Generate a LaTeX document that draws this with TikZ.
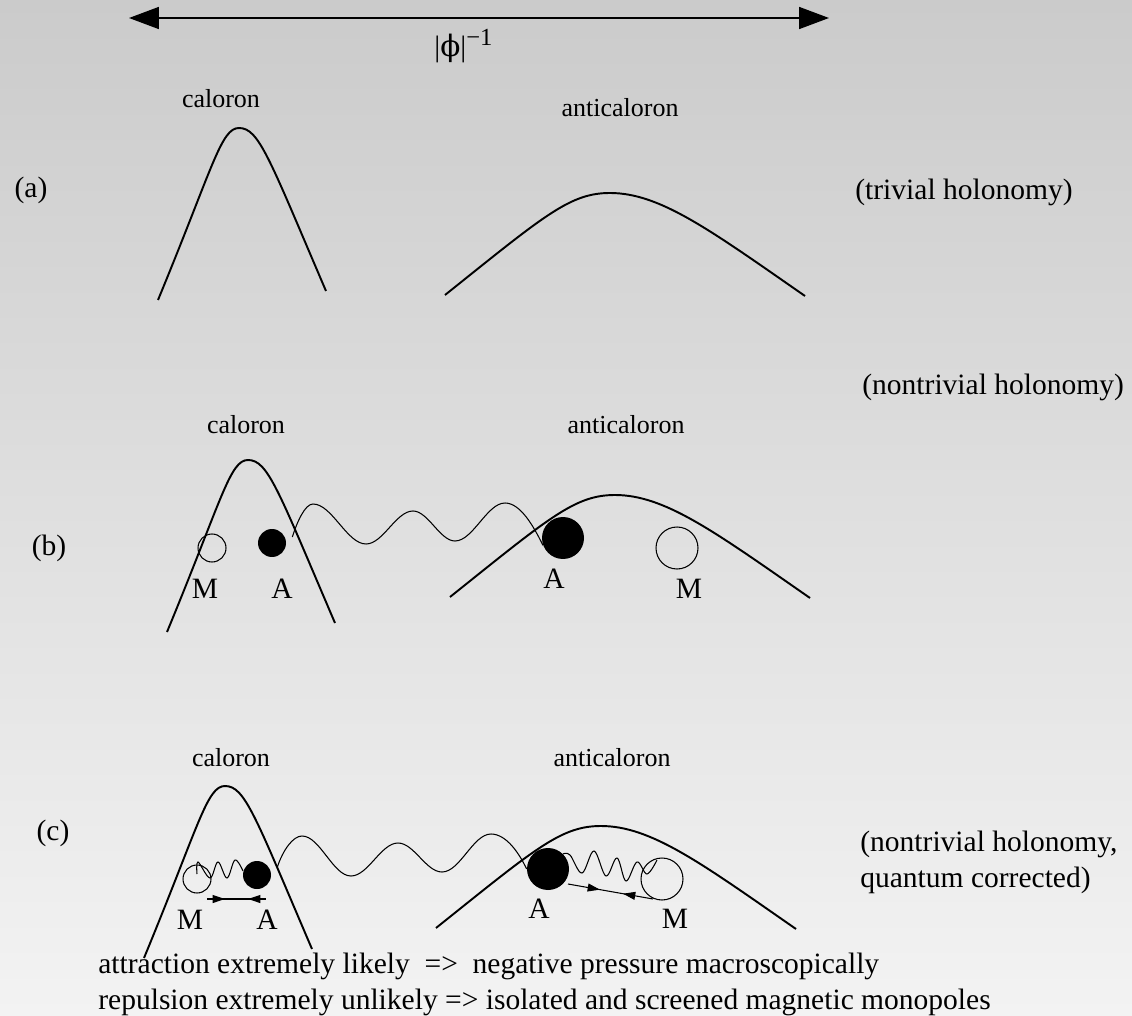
\documentclass[tikz,border=0pt]{standalone}
\usepackage{fontspec}
\setmainfont{Liberation Serif}
\newfontfamily\grk{DejaVu Serif}
\usetikzlibrary{arrows.meta,decorations.markings}

\definecolor{bgtop}{RGB}{203,203,203}
\definecolor{bgbot}{RGB}{243,243,243}
\newcommand{\bigtxt}{\fontsize{16.8}{20}\selectfont}
\newcommand{\smalltxt}{\fontsize{14.8}{18}\selectfont}
% the two bumps, drawn at the place of panel (a) and shifted for (b), (c)
\newcommand{\calhump}[1]{\draw[hump, shift={#1}] (158,300) .. controls (213,167) and (221,128) .. (239,128) .. controls (259,128) and (269,158) .. (326,291);}
\newcommand{\antihump}[1]{\draw[hump, shift={#1}] (445,295) .. controls (545,215) and (570,193) .. (610,193) .. controls (660,193) and (710,230) .. (805,296);}

\begin{document}
\begin{tikzpicture}[x=0.02cm, y=-0.02cm,
  hump/.style={line width=1.1pt},
  wave/.style={line width=0.6pt},
  mono/.style={circle, draw, line width=0.6pt, inner sep=0pt},
  anti/.style={circle, fill=black, inner sep=0pt},
  tag/.style={font=\smalltxt, anchor=base, inner sep=0pt},
  lett/.style={font=\bigtxt, anchor=base, inner sep=0pt},
  txt/.style={font=\bigtxt, anchor=base west, inner sep=0pt},
  pull/.style 2 args={line width=0.6pt, postaction={decorate}, decoration={markings,
    mark=at position #1 with {\arrow{Triangle[length=7pt,width=4.5pt]}},
    mark=at position #2 with {\arrowreversed{Triangle[length=7pt,width=4.5pt]}}}}]

\shade[top color=bgtop, bottom color=bgbot] (0,0) rectangle (1132,1016);
\useasboundingbox (0,0) rectangle (1132,1016);

% length scale
\draw[line width=0.85pt, {Triangle[length=17pt,width=12.5pt]}-{Triangle[length=17pt,width=12.5pt]}] (129,18) -- (829,18);
\node[txt] (scale) at (434,57) {|{\grk ϕ}|\raisebox{6.8pt}{\fontsize{14}{14}\selectfont −1}};

% (a) trivial holonomy
\node[lett] (pa) at (31,198) {(a)};
\node[tag] (cal1) at (221,108) {caloron};
\node[tag] (acal1) at (620,117) {anticaloron};
\node[txt] (hol1) at (855,200) {(trivial holonomy)};
\calhump{(0,0)}
\antihump{(0,0)}

% (b) nontrivial holonomy
\node[lett] (pb) at (49,555) {(b)};
\node[tag] (cal2) at (246,434) {caloron};
\node[tag] (acal2) at (626,434) {anticaloron};
\node[txt] (hol2) at (862,395) {(nontrivial holonomy)};
\calhump{(9,332)}
\antihump{(5,302)}
\node[mono, minimum size=5.6mm] (M1) at (212,548) {};
\node[anti, minimum size=5.6mm] (A1) at (272,543) {};
\node[anti, minimum size=8.4mm] (A2) at (563,538) {};
\node[mono, minimum size=8.4mm] (M2) at (677,548) {};
\node[lett] (lM1) at (205,598) {M};
\node[lett] (lA1) at (282,598) {A};
\node[lett] (lA2) at (554,588) {A};
\node[lett] (lM2) at (689,598) {M};
\draw[wave] (A1.east) ++(6,-6) .. controls (297,522) and (305,504) .. (313,504)
  .. controls (332,504) and (347,544) .. (366,544)
  .. controls (383,544) and (396,511) .. (413,511)
  .. controls (428,511) and (440,541) .. (455,541)
  .. controls (473,541) and (487,503) .. (505,503)
  .. controls (520,503) and (533,525) .. (A2.200);

% (c) quantum corrected
\node[lett] (pc) at (53,840) {(c)};
\node[tag] (cal3) at (231,766) {caloron};
\node[tag] (acal3) at (612,766) {anticaloron};
\node[txt] (hol3) at (860,851) {(nontrivial holonomy,};
\node[txt] (hol3b) at (860,887) {quantum corrected)};
\calhump{(-14,658)}
\antihump{(-9,633)}
\node[mono, minimum size=5.6mm] (M3) at (197,879) {};
\node[mono, minimum size=8.4mm] (M4) at (662,879) {};
\draw[wave] plot[smooth, tension=0.6] coordinates {(197,874) (198,862) (210,878) (218,862) (227,878) (235,860) (243,871)};
\draw[wave] plot[smooth, tension=0.6] coordinates {(563,854) (570,855) (582,873) (594,851) (606,876) (617,858) (626,881) (637,862) (647,874) (657,860)};
\node[anti, minimum size=5.6mm] (A3) at (257,875) {};
\node[anti, minimum size=8.4mm] (A4) at (548,869) {};
\node[lett] (lM3) at (190,929) {M};
\node[lett] (lA3) at (267,929) {A};
\node[lett] (lA4) at (539,918) {A};
\node[lett] (lM4) at (675,928) {M};
\draw[wave] (A3.east) ++(6,-8) .. controls (283,850) and (293,836) .. (302,836)
  .. controls (320,836) and (333,876) .. (351,876)
  .. controls (368,876) and (381,843) .. (398,843)
  .. controls (414,843) and (426,872) .. (442,872)
  .. controls (460,872) and (473,834) .. (491,834)
  .. controls (507,834) and (520,855) .. (A4.west);
\draw[pull={0.305}{0.695}] (207,899) -- (266,899);
\draw[pull={0.376}{0.647}] (568,884) -- (653,899);

\node[txt] (attr) at (98,973) {attraction extremely likely\ \ =>\ \ negative pressure macroscopically};
\node[txt] (rep) at (98,1009) {repulsion extremely unlikely => isolated and screened magnetic monopoles};
\end{tikzpicture}
\end{document}
